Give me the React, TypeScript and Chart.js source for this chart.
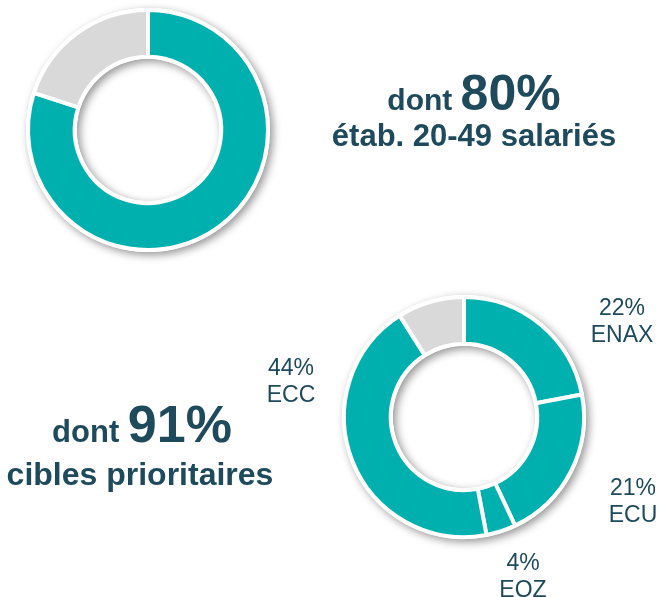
import React, { useEffect, useRef } from "react";
import { Chart, registerables } from "chart.js";

Chart.register(...registerables);

const topCategories = ["étab. 20-49 salariés", "Autres"];
const topValues = [80, 20];

const bottomCategories = ["ENAX", "ECU", "EQZ", "ECC", "Autres"];
const bottomValues = [22, 21, 4, 44, 9];

const TEAL = "#00B0AE";
const GREY = "#D9D9D9";
const TEXT = "#1E4A5B";
const FONT = "Arial, 'Liberation Sans', sans-serif";

const W = 668;
const H = 597;

// label anchor points (layout only)
const labelPos: Record<string, [number, number]> = {
  ENAX: [622, 315],
  ECU: [633, 495],
  EQZ: [523, 570],
  ECC: [291, 375],
};

const shadowPlugin = {
  id: "ringShadow",
  beforeDatasetsDraw(chart: any) {
    const meta = chart.getDatasetMeta(0);
    const arc = meta.data[0];
    if (!arc) return;
    const { x, y, outerRadius, innerRadius } = arc.getProps(
      ["x", "y", "outerRadius", "innerRadius"],
      true
    );
    const ctx = chart.ctx;
    ctx.save();
    ctx.shadowColor = "rgba(0,0,0,0.42)";
    ctx.shadowBlur = 8;
    ctx.shadowOffsetX = 3;
    ctx.shadowOffsetY = 3;
    ctx.beginPath();
    ctx.arc(x, y, outerRadius + 2, 0, Math.PI * 2);
    ctx.arc(x, y, Math.max(innerRadius - 2, 0), 0, Math.PI * 2, true);
    ctx.closePath();
    ctx.fillStyle = "#ffffff";
    ctx.fill();
    ctx.restore();
  },
};

function drawHeadline(
  ctx: CanvasRenderingContext2D,
  small: string,
  big: string,
  cx: number,
  baseline: number,
  smallSize: number,
  bigSize: number
) {
  ctx.font = `bold ${smallSize}px ${FONT}`;
  const w1 = ctx.measureText(small).width;
  ctx.font = `bold ${bigSize}px ${FONT}`;
  const w2 = ctx.measureText(big).width;
  const start = cx - (w1 + w2) / 2;
  ctx.textAlign = "left";
  ctx.textBaseline = "alphabetic";
  ctx.fillStyle = TEXT;
  ctx.font = `bold ${smallSize}px ${FONT}`;
  ctx.fillText(small, start, baseline);
  ctx.font = `bold ${bigSize}px ${FONT}`;
  ctx.fillText(big, start + w1, baseline);
}

const topTextPlugin = {
  id: "topText",
  afterDraw(chart: any) {
    const ctx: CanvasRenderingContext2D = chart.ctx;
    ctx.save();
    drawHeadline(ctx, "dont ", `${topValues[0]}%`, 474, 110, 30, 50);
    ctx.font = `bold 31px ${FONT}`;
    ctx.textAlign = "center";
    ctx.fillStyle = TEXT;
    ctx.fillText(topCategories[0], 474, 146);
    ctx.restore();
  },
};

const bottomTextPlugin = {
  id: "bottomText",
  afterDraw(chart: any) {
    const ctx: CanvasRenderingContext2D = chart.ctx;
    ctx.save();
    const total = bottomValues.slice(0, 4).reduce((a, b) => a + b, 0);
    drawHeadline(ctx, "dont ", `${total}%`, 142, 442, 31, 52);
    ctx.font = `bold 32px ${FONT}`;
    ctx.textAlign = "center";
    ctx.fillStyle = TEXT;
    ctx.fillText("cibles prioritaires", 140, 485);
    ctx.font = `23px ${FONT}`;
    bottomCategories.slice(0, 4).forEach((name, i) => {
      const p = labelPos[name];
      ctx.fillText(`${bottomValues[i]}%`, p[0], p[1]);
      ctx.fillText(name, p[0], p[1] + 27);
    });
    ctx.restore();
  },
};

function makeConfig(
  labels: string[],
  values: number[],
  colors: string[],
  padding: { left: number; top: number; right: number; bottom: number },
  textPlugin: any
): any {
  return {
    type: "doughnut",
    data: {
      labels,
      datasets: [
        {
          data: values,
          backgroundColor: colors,
          borderColor: "#ffffff",
          borderWidth: 4,
        },
      ],
    },
    options: {
      responsive: false,
      animation: false,
      cutout: "61%",
      layout: { padding },
      plugins: {
        legend: { display: false },
        tooltip: { enabled: false },
      },
      events: [],
    },
    plugins: [shadowPlugin, textPlugin],
  };
}

export default function App() {
  const ref1 = useRef<HTMLCanvasElement>(null);
  const ref2 = useRef<HTMLCanvasElement>(null);

  useEffect(() => {
    const c1 = new Chart(
      ref1.current!,
      makeConfig(
        topCategories,
        topValues,
        [TEAL, GREY],
        { left: 26, top: 8, right: 398, bottom: 345 },
        topTextPlugin
      )
    );
    const c2 = new Chart(
      ref2.current!,
      makeConfig(
        bottomCategories,
        bottomValues,
        [TEAL, TEAL, TEAL, TEAL, GREY],
        { left: 342, top: 295, right: 82, bottom: 58 },
        bottomTextPlugin
      )
    );
    return () => {
      c1.destroy();
      c2.destroy();
    };
  }, []);

  const style: React.CSSProperties = {
    position: "absolute",
    left: 0,
    top: 0,
    width: W,
    height: H,
  };

  return (
    <div style={{ position: "fixed", left: 0, top: 0, width: W, height: H, background: "#fff" }}>
      <canvas ref={ref1} width={W} height={H} style={style} />
      <canvas ref={ref2} width={W} height={H} style={style} />
    </div>
  );
}
